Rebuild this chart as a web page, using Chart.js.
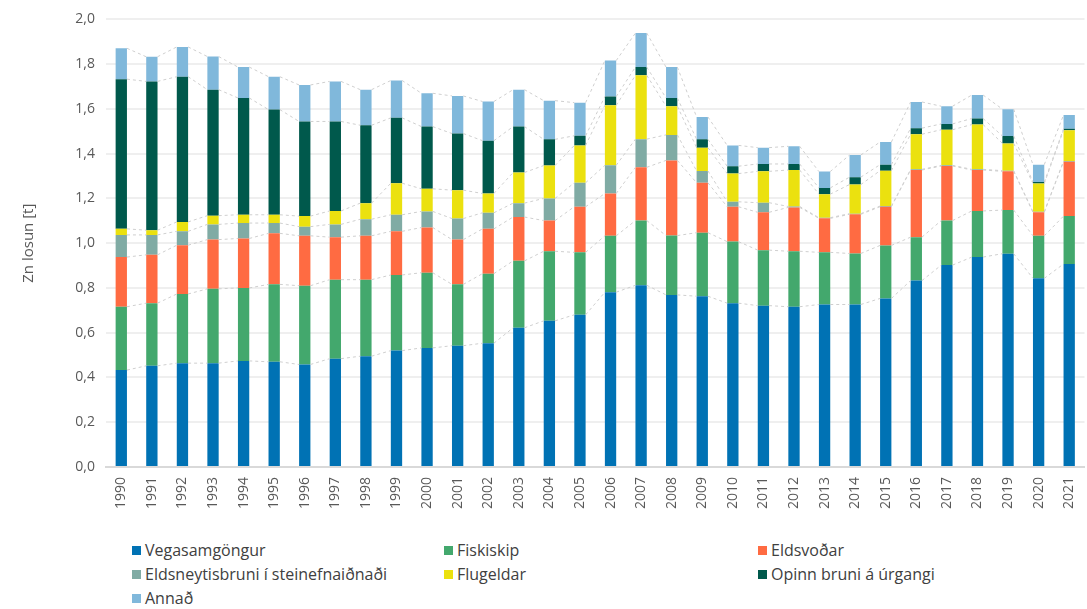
<!DOCTYPE html>
<html>
<head>
<meta charset="utf-8">
<script src="https://cdn.jsdelivr.net/npm/chart.js@4/dist/chart.umd.min.js"></script>
<style>
  html, body { margin: 0; padding: 0; background: #fff; overflow: hidden; }
  #wrap { position: relative; width: 1087px; height: 609px; overflow: hidden; }
  #znChart { position: absolute; left: 0; top: 0; }
  #legend {
    position: absolute; left: 132px; top: 538px;
    display: grid; grid-template-columns: 312px 314px auto;
    font-family: "Open Sans", sans-serif; font-size: 16px; color: #404040;
  }
  .item { height: 24px; line-height: 24px; white-space: nowrap; display: flex; align-items: center; }
  .box { width: 9px; height: 9px; margin-right: 4px; display: inline-block; }
</style>
</head>
<body>
<div id="wrap">
  <canvas id="znChart" width="1096" height="533"></canvas>
  <div id="legend"></div>
</div>
<script>
const years = ['1990','1991','1992','1993','1994','1995','1996','1997','1998','1999','2000','2001','2002','2003','2004','2005','2006','2007','2008','2009','2010','2011','2012','2013','2014','2015','2016','2017','2018','2019','2020','2021'];

const vegasamgongur = [0.433,0.452,0.464,0.464,0.474,0.470,0.458,0.484,0.495,0.520,0.532,0.542,0.553,0.622,0.653,0.680,0.781,0.812,0.769,0.763,0.732,0.721,0.716,0.726,0.726,0.753,0.833,0.902,0.938,0.953,0.843,0.907];
const fiskiskip = [0.283,0.280,0.309,0.332,0.326,0.346,0.352,0.353,0.342,0.338,0.336,0.274,0.311,0.299,0.311,0.279,0.252,0.289,0.265,0.284,0.275,0.248,0.248,0.233,0.228,0.237,0.194,0.199,0.206,0.195,0.190,0.214];
const eldsvodar = [0.222,0.216,0.218,0.220,0.221,0.228,0.223,0.190,0.196,0.195,0.202,0.200,0.200,0.196,0.137,0.204,0.189,0.238,0.336,0.223,0.156,0.169,0.196,0.152,0.175,0.173,0.300,0.244,0.183,0.173,0.105,0.243];
const steinefnaidnadur = [0.099,0.089,0.062,0.068,0.069,0.046,0.041,0.057,0.074,0.074,0.072,0.094,0.072,0.062,0.099,0.107,0.126,0.126,0.114,0.053,0.022,0.043,0.004,0.003,0.003,0.003,0.003,0.003,0.003,0.003,0.003,0.003];
const flugeldar = [0.027,0.021,0.042,0.039,0.037,0.037,0.047,0.060,0.072,0.141,0.101,0.127,0.086,0.137,0.147,0.167,0.268,0.285,0.128,0.104,0.126,0.140,0.163,0.105,0.130,0.158,0.157,0.159,0.200,0.122,0.126,0.138];
const opinnBruni = [0.669,0.665,0.649,0.563,0.522,0.470,0.423,0.400,0.348,0.292,0.278,0.253,0.236,0.205,0.117,0.043,0.039,0.037,0.037,0.037,0.033,0.033,0.027,0.028,0.033,0.027,0.027,0.026,0.027,0.033,0.006,0.006];
const annad = [0.138,0.110,0.133,0.148,0.138,0.147,0.163,0.179,0.159,0.167,0.149,0.168,0.175,0.165,0.173,0.148,0.161,0.152,0.138,0.100,0.093,0.073,0.079,0.073,0.099,0.101,0.117,0.079,0.105,0.120,0.078,0.062];

const seriesNames = ['Vegasamgöngur','Fiskiskip','Eldsvoðar','Eldsneytisbruni í steinefnaiðnaði','Flugeldar','Opinn bruni á úrgangi','Annað'];
const seriesData = [vegasamgongur, fiskiskip, eldsvodar, steinefnaidnadur, flugeldar, opinnBruni, annad];
const seriesColors = ['#0072b4','#43a86d','#ff6b42','#80aba4','#ebe10f','#00594c','#80b8db'];

// dashed "series lines" between the bars, like in Excel
const seriesLines = {
  id: 'seriesLines',
  afterDatasetsDraw(chart) {
    const ctx = chart.ctx;
    ctx.save();
    ctx.strokeStyle = '#cfcfcf';
    ctx.lineWidth = 1;
    ctx.setLineDash([3, 3]);
    chart.data.datasets.forEach((ds, d) => {
      const bars = chart.getDatasetMeta(d).data;
      for (let i = 0; i < bars.length - 1; i++) {
        const a = bars[i], b = bars[i + 1];
        ctx.beginPath();
        ctx.moveTo(a.x + a.width / 2, a.y);
        ctx.lineTo(b.x - b.width / 2, b.y);
        ctx.stroke();
      }
    });
    ctx.restore();
  }
};

const chartData = {
  labels: years,
  datasets: seriesNames.map((name, i) => ({
    label: name,
    data: seriesData[i],
    backgroundColor: seriesColors[i],
    borderWidth: 0,
    barPercentage: 0.37,
    categoryPercentage: 1
  }))
};

const znChart = new Chart(document.getElementById('znChart'), {
  type: 'bar',
  data: chartData,
  plugins: [seriesLines],
  options: {
    responsive: false,
    animation: false,
    layout: { padding: { left: 20, top: 16, right: 0, bottom: 14 } },
    plugins: {
      legend: { display: false },
      tooltip: { enabled: false }
    },
    scales: {
      x: {
        stacked: true,
        grid: { display: false, drawTicks: false },
        border: { color: '#d9d9d9', width: 2 },
        ticks: {
          minRotation: 90, maxRotation: 90, padding: 10,
          color: '#595959',
          font: { family: 'Open Sans', size: 14 }
        }
      },
      y: {
        stacked: true,
        min: 0, max: 2,
        afterFit(scale) { scale.width = 86; },
        grid: { color: '#efefef', lineWidth: 2, drawTicks: false },
        border: { display: false },
        ticks: {
          stepSize: 0.2, padding: 11,
          color: '#595959',
          font: { family: 'Open Sans', size: 14 },
          callback: v => v.toFixed(1).replace('.', ',')
        },
        title: {
          display: true,
          text: 'Zn losun [t]',
          color: '#595959',
          font: { family: 'Open Sans', size: 15 },
          padding: { top: 0, bottom: 0 }
        }
      }
    }
  }
});

// legend in three columns, built from the chart's own labels
const legendEl = document.getElementById('legend');
znChart.options.plugins.legend.labels.generateLabels(znChart).forEach(item => {
  const div = document.createElement('div');
  div.className = 'item';
  const box = document.createElement('span');
  box.className = 'box';
  box.style.background = item.fillStyle;
  div.appendChild(box);
  div.appendChild(document.createTextNode(item.text));
  legendEl.appendChild(div);
});
</script>
</body>
</html>
